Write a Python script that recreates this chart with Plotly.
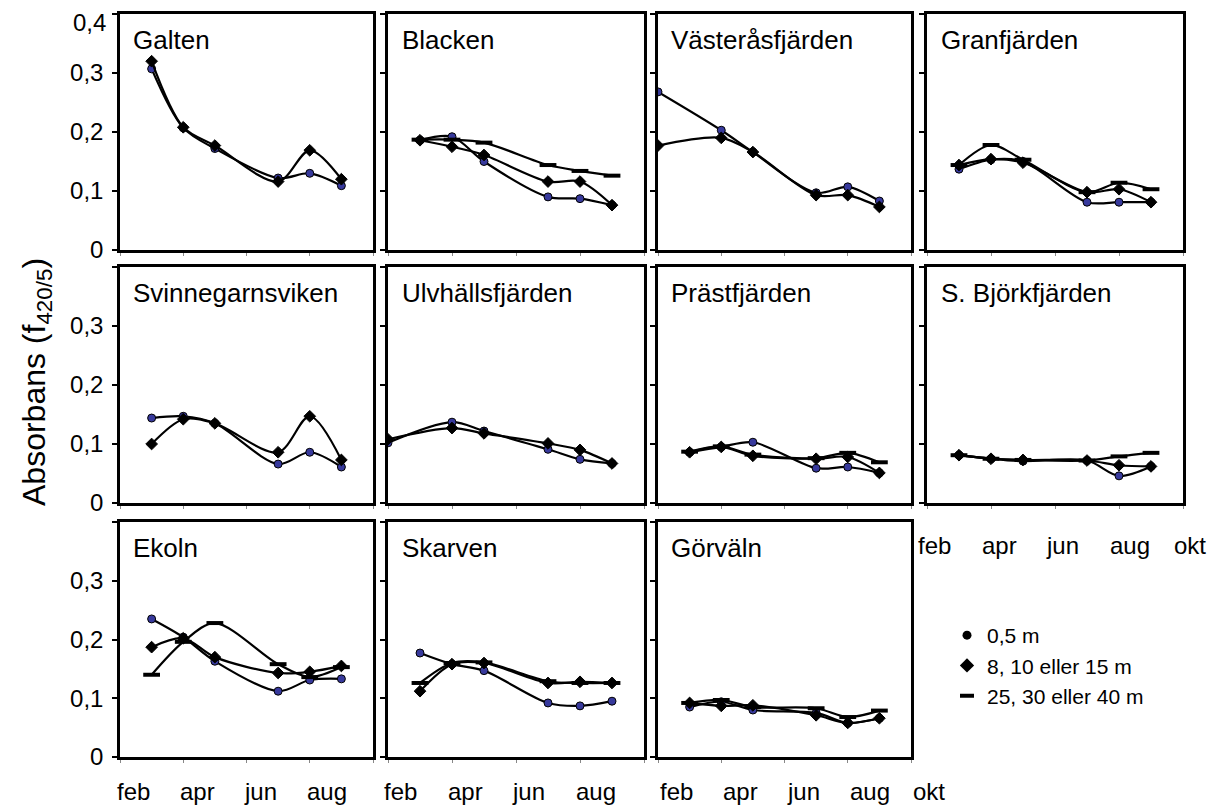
import plotly.graph_objects as go
from plotly.subplots import make_subplots

# ---------------- data ----------------
lakes = ["Galten", "Blacken", "Västeråsfjärden", "Granfjärden",
         "Svinnegarnsviken", "Ulvhällsfjärden", "Prästfjärden", "S. Björkfjärden",
         "Ekoln", "Skarven", "Görväln"]

months_mar = [3, 4, 5, 7, 8, 9]
months_feb = [2, 4, 5, 7, 8, 9]

sample_months = {
    "Galten": months_mar, "Blacken": months_mar, "Västeråsfjärden": months_feb,
    "Granfjärden": months_mar, "Svinnegarnsviken": months_mar, "Ulvhällsfjärden": months_feb,
    "Prästfjärden": months_mar, "S. Björkfjärden": months_mar, "Ekoln": months_mar,
    "Skarven": months_mar, "Görväln": months_mar,
}

depth_05 = {
    "Galten": [0.307, 0.207, 0.172, 0.122, 0.130, 0.109],
    "Blacken": [0.186, 0.192, 0.150, 0.090, 0.087, 0.076],
    "Västeråsfjärden": [0.268, 0.203, 0.166, 0.097, 0.107, 0.083],
    "Granfjärden": [0.137, 0.153, 0.150, 0.081, 0.081, 0.081],
    "Svinnegarnsviken": [0.144, 0.147, 0.135, 0.066, 0.086, 0.061],
    "Ulvhällsfjärden": [0.102, 0.137, 0.122, 0.091, 0.074, 0.067],
    "Prästfjärden": [0.086, 0.095, 0.103, 0.059, 0.061, 0.051],
    "S. Björkfjärden": [0.081, 0.075, 0.071, 0.072, 0.046, 0.062],
    "Ekoln": [0.235, 0.204, 0.163, 0.112, 0.131, 0.133],
    "Skarven": [0.177, 0.158, 0.147, 0.092, 0.087, 0.095],
    "Görväln": [0.085, 0.094, 0.080, 0.075, 0.058, 0.066],
}

depth_mid = {
    "Galten": [0.320, 0.208, 0.177, 0.116, 0.169, 0.120],
    "Blacken": [0.186, 0.175, 0.161, 0.116, 0.116, 0.076],
    "Västeråsfjärden": [0.177, 0.190, 0.166, 0.093, 0.093, 0.073],
    "Granfjärden": [0.144, 0.154, 0.148, 0.098, 0.103, 0.081],
    "Svinnegarnsviken": [0.100, 0.142, 0.135, 0.086, 0.147, 0.073],
    "Ulvhällsfjärden": [0.108, 0.127, 0.118, 0.101, 0.090, 0.067],
    "Prästfjärden": [0.086, 0.095, 0.080, 0.075, 0.078, 0.051],
    "S. Björkfjärden": [0.081, 0.075, 0.073, 0.072, 0.064, 0.062],
    "Ekoln": [0.187, 0.202, 0.170, 0.143, 0.145, 0.155],
    "Skarven": [0.112, 0.158, 0.160, 0.126, 0.128, 0.126],
    "Görväln": [0.092, 0.087, 0.088, 0.071, 0.058, 0.066],
}

depth_deep = {
    "Blacken": [0.187, 0.187, 0.182, 0.144, 0.134, 0.126],
    "Granfjärden": [0.144, 0.178, 0.153, 0.098, 0.114, 0.103],
    "Prästfjärden": [0.087, 0.096, 0.082, 0.076, 0.085, 0.069],
    "S. Björkfjärden": [0.081, 0.075, 0.073, 0.072, 0.079, 0.085],
    "Ekoln": [0.140, 0.196, 0.228, 0.158, 0.136, 0.153],
    "Skarven": [0.126, 0.160, 0.161, 0.129, 0.126, 0.126],
    "Görväln": [0.092, 0.097, 0.085, 0.083, 0.068, 0.079],
}

series_names = ["0,5 m", "8, 10 eller 15 m", "25, 30 eller 40 m"]
y_ticks = [0, 0.1, 0.2, 0.3, 0.4]
y_tick_text = ["0", "0,1", "0,2", "0,3", "0,4"]
month_ticks = [2, 4, 6, 8, 10]
month_labels = ["feb", "apr", "jun", "aug", "okt"]

# ---------------- styling / geometry ----------------
FONT = "Liberation Sans, Arial, Helvetica, sans-serif"
BLUE = "#37399c"
OFF = 8                      # page body margin
W, H = 1223 - OFF, 809 - OFF
ML, MT = 120 - OFF, 14 - OFF
MR = W - (1183 - OFF)
MB = H - (757 - OFF)
PW, PH = W - ML - MR, H - MT - MB

def px_x(sx):
    return (sx - OFF - ML) / PW

def px_y(sy):
    return (H - MB - (sy - OFF)) / PH

col_px = [(120, 373), (388, 644), (658, 911), (927, 1183)]
row_px = [(14, 250), (267, 503), (522, 757)]

def xdom(c):
    a, b = col_px[c]
    return [px_x(a), px_x(b)]

def ydom(r):
    a, b = row_px[r]
    return [px_y(b), px_y(a)]

fig = make_subplots(rows=3, cols=4, horizontal_spacing=0.01, vertical_spacing=0.02)

marker_styles = [
    dict(symbol="circle", size=8, color=BLUE, line=dict(color="black", width=1)),
    dict(symbol="diamond", size=9, color="black", line=dict(color="black", width=1)),
    dict(symbol="line-ew", size=12, color="black", line=dict(color="black", width=4)),
]

for i, lake in enumerate(lakes):
    r, c = divmod(i, 4)
    xs = sample_months[lake]
    for k, src in enumerate([depth_05, depth_mid, depth_deep]):
        if lake not in src:
            continue
        fig.add_trace(go.Scatter(
            x=xs, y=src[lake], mode="lines+markers",
            line=dict(color="black", width=2.2, shape="spline", smoothing=0.9),
            marker=marker_styles[k], showlegend=False, hoverinfo="skip",
        ), row=r + 1, col=c + 1)

# legend-only traces
leg_markers = [
    dict(symbol="circle", size=9, color="black"),
    dict(symbol="diamond", size=11, color="black"),
    dict(symbol="line-ew", size=10, color="black", line=dict(color="black", width=4)),
]
for name, mk in zip(series_names, leg_markers):
    fig.add_trace(go.Scatter(x=[None], y=[None], mode="markers", name=name,
                             marker=mk, showlegend=True), row=3, col=4)

# axes (top tick 0.4 drawn as a minor tick; its label for row 1 is an annotation below)
for r in range(3):
    for c in range(4):
        idx = r * 4 + c + 1
        xa = "xaxis" if idx == 1 else f"xaxis{idx}"
        ya = "yaxis" if idx == 1 else f"yaxis{idx}"
        if r == 2 and c == 3:
            fig.layout[xa].update(visible=False, domain=xdom(c), automargin=False)
            fig.layout[ya].update(visible=False, domain=ydom(r), automargin=False)
            continue
        fig.layout[xa].update(
            domain=xdom(c), range=[2, 10], showgrid=False, zeroline=False,
            showline=True, mirror=True, linecolor="black", linewidth=2.5,
            tickvals=month_ticks, ticks="outside", ticklen=3, tickwidth=1,
            tickcolor="#888", showticklabels=False, automargin=False,
        )
        fig.layout[ya].update(
            domain=ydom(r), range=[0, 0.4], showgrid=False, zeroline=False,
            showline=True, mirror=True, linecolor="black", linewidth=2.5,
            tickvals=y_ticks[:4], ticktext=y_tick_text[:4],
            ticks="outside", ticklen=5,
            tickwidth=2, tickcolor="black", showticklabels=(c == 0),
            tickfont=dict(size=24, color="black", family=FONT),
            ticklabelstandoff=4, automargin=False,
            minor=dict(tickvals=y_ticks[4:], ticks="outside", ticklen=5,
                       tickwidth=2, tickcolor="black", showgrid=False),
        )

annotations = []
# top tick label of the first panel (nudged down so it stays on the page)
annotations.append(dict(
    text=y_tick_text[4], x=px_x(107), xref="paper", yref="y",
    y=y_ticks[4], yanchor="middle", xanchor="right", showarrow=False,
    yshift=-8, borderpad=0, font=dict(size=24, color="black", family=FONT),
))

# panel titles
for i, lake in enumerate(lakes):
    idx = i + 1
    sfx = "" if idx == 1 else str(idx)
    annotations.append(dict(
        text=lake, x=0.045, y=0.89, xref=f"x{sfx} domain", yref=f"y{sfx} domain",
        xanchor="left", yanchor="middle", showarrow=False,
        font=dict(size=26, color="black", family=FONT),
    ))

# month labels (left-aligned at the month position)
label_panels = [(9, 4, -5, px_y(776)), (10, 4, -6, px_y(776)),
                (11, 5, 0, px_y(776)), (8, 5, -11, px_y(530))]
for idx, n, shift, ypos in label_panels:
    for m, lab in zip(month_ticks[:n], month_labels[:n]):
        annotations.append(dict(
            text=lab, x=m, y=ypos, xref=f"x{idx}", yref="paper",
            xanchor="left", yanchor="top", xshift=shift, showarrow=False,
            font=dict(size=24, color="black", family=FONT),
        ))

# y-axis title
annotations.append(dict(
    text="Absorbans (f<sub>420/5</sub>)", x=px_x(36), y=px_y(382),
    xref="paper", yref="paper", xanchor="center", yanchor="middle",
    textangle=-90, showarrow=False, font=dict(size=32, color="black", family=FONT),
))

fig.update_layout(
    width=W, height=H, margin=dict(l=ML, r=MR, t=MT, b=MB, autoexpand=False),
    paper_bgcolor="white", plot_bgcolor="white",
    font=dict(family=FONT, color="black"),
    annotations=annotations,
    showlegend=True,
    legend=dict(x=px_x(947), y=px_y(615), xanchor="left", yanchor="top",
                font=dict(size=21, color="black", family=FONT),
                bgcolor="rgba(0,0,0,0)", tracegroupgap=0, itemwidth=30),
)

fig.write_html("out.html")
